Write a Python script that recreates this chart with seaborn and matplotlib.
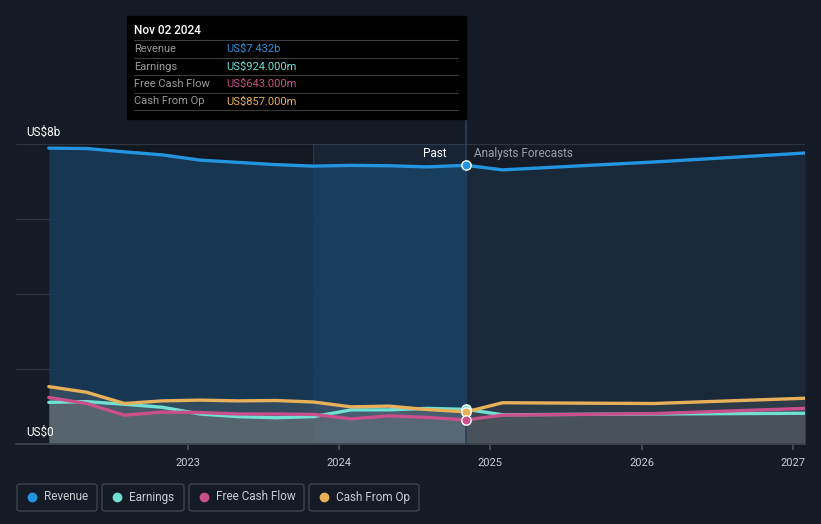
import numpy as np
import pandas as pd
import matplotlib.pyplot as plt
import seaborn as sb
from matplotlib.patches import Rectangle, FancyBboxPatch
from matplotlib.lines import Line2D

# fractional years, quarterly reports then yearly analyst forecasts
past_t = [2022.08, 2022.33, 2022.58, 2022.83, 2023.08, 2023.33, 2023.58, 2023.83,
          2024.08, 2024.33, 2024.58, 2024.84]
fut_t = [2024.84, 2025.08, 2026.08, 2027.08]

revenue_past = [7.89, 7.88, 7.79, 7.71, 7.57, 7.51, 7.45, 7.41, 7.43, 7.42, 7.39, 7.432]
earnings_past = [1.11, 1.13, 1.06, 0.98, 0.80, 0.73, 0.70, 0.73, 0.91, 0.91, 0.95, 0.924]
fcf_past = [1.24, 1.08, 0.77, 0.85, 0.84, 0.80, 0.80, 0.79, 0.67, 0.75, 0.71, 0.643]
cfo_past = [1.53, 1.38, 1.08, 1.15, 1.17, 1.15, 1.16, 1.12, 0.99, 1.01, 0.92, 0.857]

revenue_fut = [7.432, 7.31, 7.52, 7.76]
earnings_fut = [0.924, 0.78, 0.80, 0.82]
fcf_fut = [0.643, 0.77, 0.81, 0.95]
cfo_fut = [0.857, 1.10, 1.08, 1.22]

names = ['Revenue', 'Earnings', 'Free Cash Flow', 'Cash From Op']
colors = ['#2394df', '#6fe0d2', '#c9508a', '#e8b05a']
tip_values = ['US$7.432b', 'US$924.000m', 'US$643.000m', 'US$857.000m']
years = [2023, 2024, 2025, 2026, 2027]

BG = '#151b26'
W, H = 821, 524

sb.set_theme(style='dark')
plt.rcParams['font.family'] = ['Roboto', 'DejaVu Sans']

fig = plt.figure(figsize=(W / 100, H / 100), dpi=100, facecolor=BG)


def fx(px):
    return px / W


def fy(py):
    return 1 - py / H


ax = fig.add_axes([fx(16), fy(444), fx(805) - fx(16), fy(144) - fy(444)])
ax.set_facecolor(BG)
ax.set_xlim(2021.863, 2027.08)
ax.set_ylim(0, 8)

# build long table for seaborn
rows = []
for n, p, f in zip(names, [revenue_past, earnings_past, fcf_past, cfo_past],
                   [revenue_fut, earnings_fut, fcf_fut, cfo_fut]):
    for t, v in zip(past_t, p):
        rows.append({'t': t, 'v': v, 'series': n, 'part': 'past'})
    for t, v in zip(fut_t, f):
        rows.append({'t': t, 'v': v, 'series': n, 'part': 'future'})
df = pd.DataFrame(rows)

# background bands
ax.axvspan(past_t[0], past_t[-1], color='#121820', zorder=0)
for g in [2, 4, 6, 8]:
    ax.axhline(g, color='#2c3542', lw=0.9, zorder=1)

# area fills
ax.fill_between(past_t, revenue_past, 0, color='#173a57', alpha=0.9, lw=0, zorder=1)
ax.fill_between(fut_t, revenue_fut, 0, color='#1a2a3b', alpha=0.95, lw=0, zorder=1)
ax.axvspan(2023.83, past_t[-1], color='#2a6090', alpha=0.18, lw=0, zorder=1.5)
for p, f in [(earnings_past, earnings_fut), (fcf_past, fcf_fut), (cfo_past, cfo_fut)]:
    ax.fill_between(past_t, p, 0, color='#8a8a88', alpha=0.24, lw=0, zorder=2)
    ax.fill_between(fut_t, f, 0, color='#77777a', alpha=0.22, lw=0, zorder=2)

for part in ['past', 'future']:
    sb.lineplot(data=df[df.part == part], x='t', y='v', hue='series', hue_order=names,
                palette=colors, lw=2.4, ax=ax, legend=False, zorder=4)

# highlight markers at the last report
for c, v in zip([colors[1], colors[3], colors[2], colors[0]],
                [earnings_past[-1], cfo_past[-1], fcf_past[-1], revenue_past[-1]]):
    ax.scatter([past_t[-1]], [v], s=45, color=c, edgecolor='white', lw=1.0, zorder=6)

# hover line going up into the tooltip
ax.plot([past_t[-1], past_t[-1]], [0, 8.67], color='#24405a', lw=1.2, clip_on=False, zorder=3)
ax.axvline(2023.83, color='#1e3a55', lw=0.8, zorder=1.6)

ax.text(past_t[-1] - 0.13, 7.75, 'Past', color='white', fontsize=8.5, ha='right', va='center', zorder=7)
ax.text(past_t[-1] + 0.05, 7.75, 'Analysts Forecasts', color='#9aa0a8', fontsize=8.5,
        ha='left', va='center', zorder=7)

# axes styling
ax.set_xticks(years)
ax.set_xticklabels([str(y) for y in years], color='#c8ccd2', fontsize=8)
ax.set_yticks([])
ax.set_xlabel('')
ax.set_ylabel('')
ax.tick_params(axis='x', length=4, color='#4a505a', pad=6, bottom=True)
for s in ['top', 'right', 'left']:
    ax.spines[s].set_visible(False)
ax.spines['bottom'].set_color('#3c424c')
ax.grid(False)

fig.text(fx(26), fy(132), 'US$8b', color='white', fontsize=8.5, va='center')
fig.text(fx(26), fy(432), 'US$0', color='white', fontsize=8.5, va='center')

# tooltip
fig.add_artist(Rectangle((fx(127), fy(119)), fx(466) - fx(127), fy(16) - fy(119),
                         transform=fig.transFigure, color='black', zorder=10))
fig.text(fx(134), fy(31), 'Nov 02 2024', color='white', fontsize=8.5, va='center',
         fontweight='medium', zorder=11)
for i, (n, c, v) in enumerate(zip(names, colors, tip_values)):
    yy = 49 + i * 17.5
    fig.add_artist(Line2D([fx(134), fx(458)], [fy(yy - 9), fy(yy - 9)],
                          transform=fig.transFigure, color='#3a3a3a', lw=0.8, zorder=11))
    fig.text(fx(134), fy(yy), n, color='#9a9a9a', fontsize=8, va='center', zorder=11)
    t = fig.text(fx(226), fy(yy), v, color=c, fontsize=8, va='center', zorder=11)
    ax.annotate(' /yr', xy=(1, 0.5), xycoords=t, va='center', ha='left',
                color='#b8b8b8', fontsize=8, zorder=11, annotation_clip=False)
fig.add_artist(Line2D([fx(134), fx(458)], [fy(110), fy(110)],
                      transform=fig.transFigure, color='#3a3a3a', lw=0.8, zorder=11))

# legend boxes
boxes = [(17, 97), (102, 184), (189, 304), (309, 419)]
for (x0, x1), n, c in zip(boxes, names, colors):
    fig.add_artist(FancyBboxPatch((fx(x0), fy(511)), fx(x1) - fx(x0), fy(484) - fy(511),
                                  boxstyle='round,pad=0,rounding_size=0.004',
                                  transform=fig.transFigure, facecolor=BG,
                                  edgecolor='#3e444e', lw=1))
    fig.add_artist(Line2D([fx(x0 + 15)], [fy(497)], marker='o', markersize=6,
                          color=c, transform=fig.transFigure, lw=0))
    fig.text(fx(x0 + 27), fy(497), n, color='#c8ccd2', fontsize=8.5, va='center')

fig.savefig('out.png', dpi=100, facecolor=BG)
